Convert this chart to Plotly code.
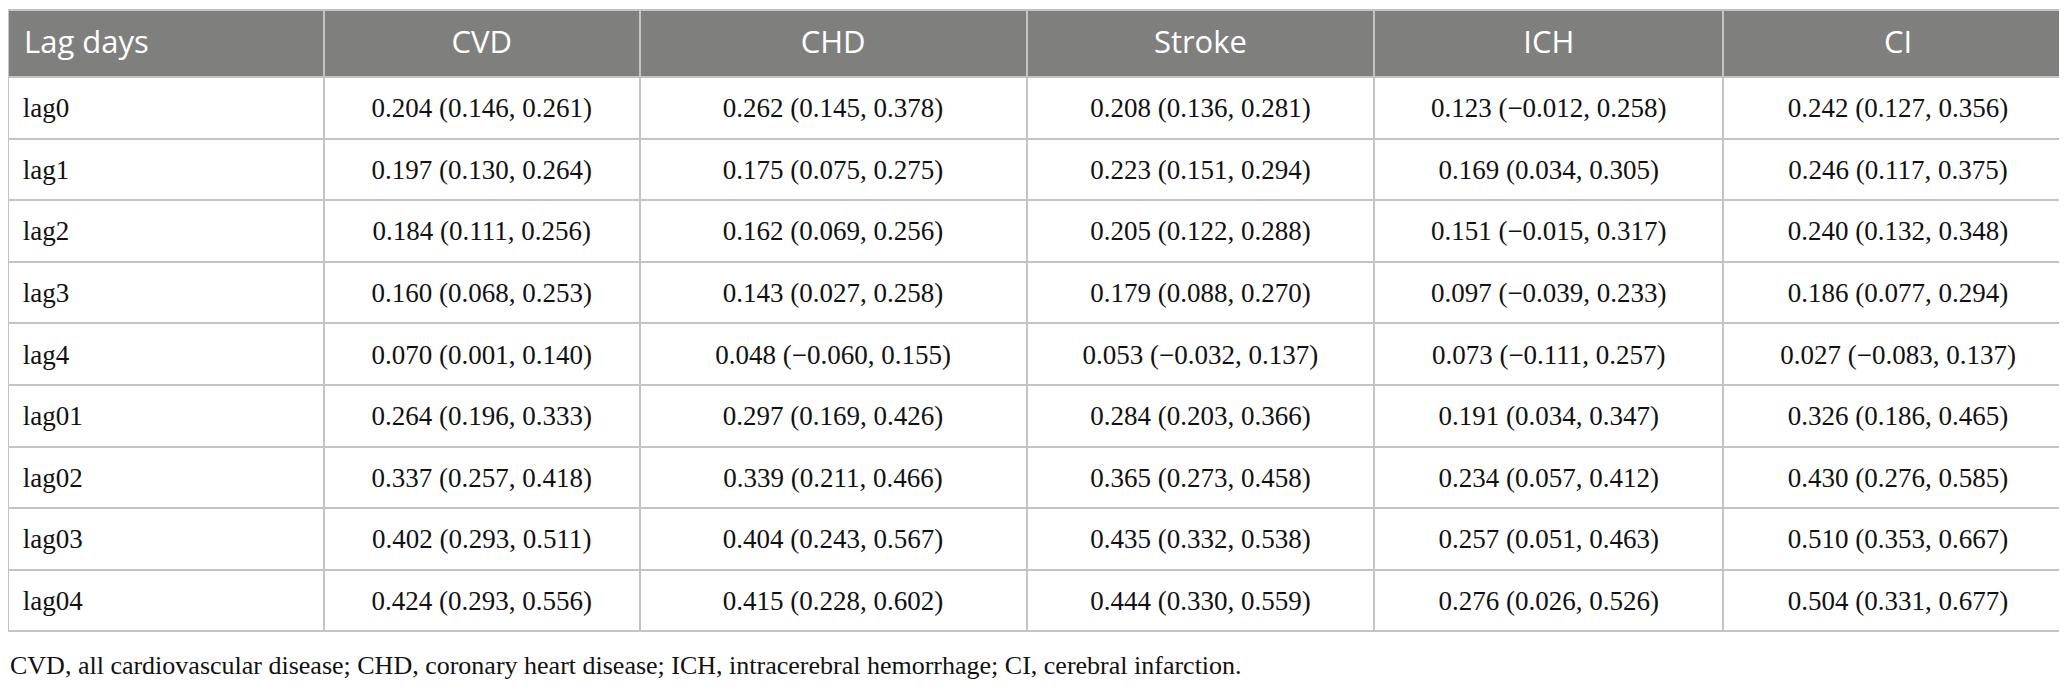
import plotly.graph_objects as go

lag_days = ["lag0", "lag1", "lag2", "lag3", "lag4", "lag01", "lag02", "lag03", "lag04"]
outcomes = ["CVD", "CHD", "Stroke", "ICH", "CI"]

# estimate, lower CI, upper CI per outcome
cvd_est = [0.204, 0.197, 0.184, 0.160, 0.070, 0.264, 0.337, 0.402, 0.424]
cvd_low = [0.146, 0.130, 0.111, 0.068, 0.001, 0.196, 0.257, 0.293, 0.293]
cvd_high = [0.261, 0.264, 0.256, 0.253, 0.140, 0.333, 0.418, 0.511, 0.556]

chd_est = [0.262, 0.175, 0.162, 0.143, 0.048, 0.297, 0.339, 0.404, 0.415]
chd_low = [0.145, 0.075, 0.069, 0.027, -0.060, 0.169, 0.211, 0.243, 0.228]
chd_high = [0.378, 0.275, 0.256, 0.258, 0.155, 0.426, 0.466, 0.567, 0.602]

stroke_est = [0.208, 0.223, 0.205, 0.179, 0.053, 0.284, 0.365, 0.435, 0.444]
stroke_low = [0.136, 0.151, 0.122, 0.088, -0.032, 0.203, 0.273, 0.332, 0.330]
stroke_high = [0.281, 0.294, 0.288, 0.270, 0.137, 0.366, 0.458, 0.538, 0.559]

ich_est = [0.123, 0.169, 0.151, 0.097, 0.073, 0.191, 0.234, 0.257, 0.276]
ich_low = [-0.012, 0.034, -0.015, -0.039, -0.111, 0.034, 0.057, 0.051, 0.026]
ich_high = [0.258, 0.305, 0.317, 0.233, 0.257, 0.347, 0.412, 0.463, 0.526]

ci_est = [0.242, 0.246, 0.240, 0.186, 0.027, 0.326, 0.430, 0.510, 0.504]
ci_low = [0.127, 0.117, 0.132, 0.077, -0.083, 0.186, 0.276, 0.353, 0.331]
ci_high = [0.356, 0.375, 0.348, 0.294, 0.137, 0.465, 0.585, 0.667, 0.677]

footnote = ("CVD, all cardiovascular disease; CHD, coronary heart disease; "
            "ICH, intracerebral hemorrhage; CI, cerebral infarction.")


def fmt(v):
    return f"{v:.3f}".replace("-", "\u2212")


def column(est, low, high):
    return [f"{fmt(e)} ({fmt(l)}, {fmt(h)})" for e, l, h in zip(est, low, high)]


pad = "\u00a0"
cells = [[pad + s for s in lag_days],
         column(cvd_est, cvd_low, cvd_high),
         column(chd_est, chd_low, chd_high),
         column(stroke_est, stroke_low, stroke_high),
         column(ich_est, ich_low, ich_high),
         column(ci_est, ci_low, ci_high)]
headers = [pad + "Lag days"] + outcomes

widths = [316, 316, 387, 348, 349, 350]
line_col = "#c4c4c4"
top = 2
plot_h = 688 - top
row_h = 61.6
head_h = 67
text_drop = 12  # px the text layer is pushed down

fig = go.Figure()

# grid and fills (no text)
fig.add_trace(go.Table(
    columnwidth=widths,
    domain=dict(x=[0, 0.9995], y=[0, 1]),
    header=dict(values=[""] * 6, fill_color="#7f807e",
                height=head_h, line=dict(color=line_col, width=2)),
    cells=dict(values=[[""] * len(lag_days)] * 6, fill_color="white",
               height=row_h, line=dict(color=line_col, width=2)),
))

# text layer, nudged down so the text sits in the middle of each cell
fig.add_trace(go.Table(
    columnwidth=widths,
    domain=dict(x=[0, 0.9995], y=[0, 1 - text_drop / plot_h]),
    header=dict(
        values=headers,
        fill_color="rgba(0,0,0,0)",
        font=dict(family="Open Sans", size=31, color="white"),
        align=["left", "center"],
        height=head_h,
        line=dict(width=0, color="rgba(0,0,0,0)"),
    ),
    cells=dict(
        values=cells,
        fill_color="rgba(0,0,0,0)",
        font=dict(family="Liberation Serif", size=27, color="#111111"),
        align=["left", "center"],
        height=row_h,
        line=dict(width=0, color="rgba(0,0,0,0)"),
    ),
))

fig.add_annotation(
    text=footnote, x=0, y=(688 - 657) / plot_h, xref="paper", yref="paper",
    xanchor="left", yanchor="middle", showarrow=False,
    font=dict(family="Liberation Serif", size=26, color="#111111"),
)

fig.update_layout(
    width=2067, height=688,
    margin=dict(l=0, r=0, t=top, b=0),
    paper_bgcolor="white",
)

fig.write_html("out.html")
